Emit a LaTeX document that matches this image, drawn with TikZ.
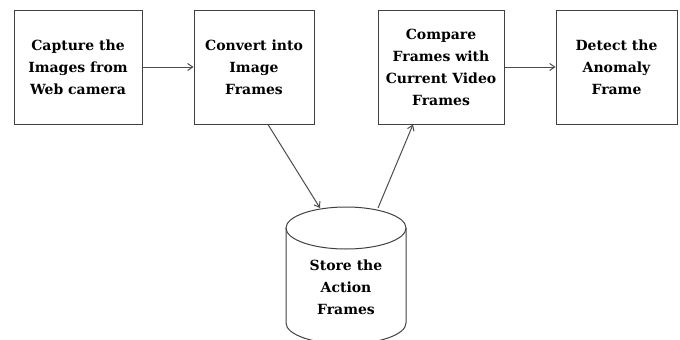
\documentclass[tikz,border=0pt]{standalone}
\usepackage{fontspec}
\setmainfont{DejaVu Serif}
\usetikzlibrary{arrows.meta}
\begin{document}
\begin{tikzpicture}[x=1pt,y=-1pt,
  box/.style={draw=black!75, line width=1pt, minimum height=114pt, inner sep=0pt,
    font=\fontsize{14}{22}\selectfont\bfseries, align=center, text=black},
  cylline/.style={draw=black!75, line width=1pt},
  lbl/.style={font=\fontsize{14}{22}\selectfont\bfseries, align=center, text=black},
  conn/.style={draw=black!70, line width=1pt, -{Straight Barb[length=5pt,width=7pt]}}]
\useasboundingbox (0,0) rectangle (680,340);
\node[box, minimum width=128pt] (b1) at (78,67) {Capture the\\Images from\\Web camera};
\node[box, minimum width=120pt] (b2) at (254,67) {Convert into\\Image\\Frames};
\node[box, minimum width=126pt] (b3) at (441,67) {Compare\\Frames with\\Current Video\\Frames};
\node[box, minimum width=121pt] (b4) at (616.5,67) {Detect the\\Anomaly\\Frame};
% cylinder
\draw[cylline] (286,228) -- (286,323) arc[start angle=180, end angle=0, x radius=60, y radius=21] -- (406,228);
\draw[cylline] (346,228) ellipse[x radius=60, y radius=21];
\node[lbl] (st) at (346,287) {Store the\\Action\\Frames};
\coordinate (cyl1) at (320,208);
\coordinate (cyl2) at (378,208);
\draw[conn] (b1.east) -- (b2.west);
\draw[conn] (b3.east) -- (b4.west);
\draw[conn] ([xshift=14pt]b2.south) -- (cyl1);
\draw[conn] (cyl2) -- ([xshift=-28pt]b3.south);
\end{tikzpicture}
\end{document}
